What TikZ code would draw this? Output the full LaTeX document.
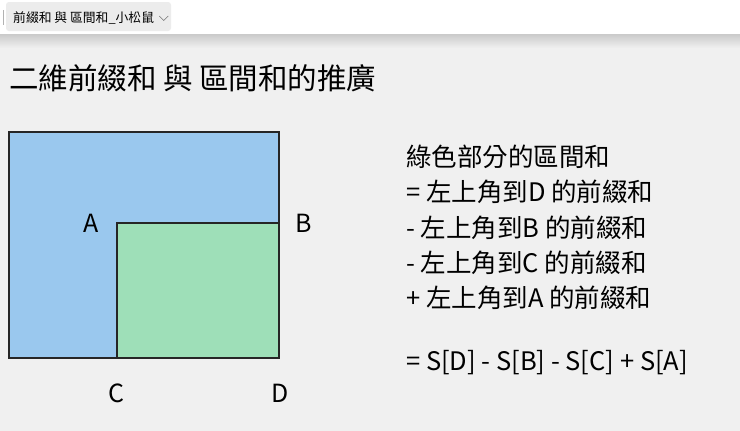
\documentclass[tikz,border=0pt]{standalone}
\usepackage{fontspec}
\setmainfont{Noto Sans CJK TC}
\usepackage{tikz}
\usetikzlibrary{positioning}
\definecolor{bgcol}{HTML}{F0F0F0}
\definecolor{myblue}{HTML}{9AC8EE}
\definecolor{mygreen}{HTML}{9EDFB8}
\definecolor{tabcol}{HTML}{ECECEC}
\tikzstyle{area} = [draw=black!85, line width=1.6pt]
\tikzstyle{corner} = [inner sep=0pt, font=\fontsize{25}{30}\selectfont]
\tikzstyle{txt} = [anchor=west, inner sep=0pt, font=\fontsize{25.5}{30}\selectfont]

\begin{document}
\begin{tikzpicture}[x=1pt, y=-1pt]
    \useasboundingbox[fill=bgcol] (0,0) rectangle (740,431);

    % top bar
    \shade[top color=black!22, bottom color=bgcol] (0,33) rectangle (740,48);
    \fill[white] (0,0) rectangle (740,34);
    \fill[tabcol, rounded corners=3pt] (6,2) rectangle (171,31);
    \draw[black!30, line width=1pt] (3,10) -- (3,25);
    \node[anchor=west, inner sep=0pt, font=\fontsize{12.8}{15}\selectfont] (tab) at (13,18) {前綴和 與 區間和\_小松鼠};
    \draw[black!55, line width=0.6pt] ([xshift=5pt,yshift=2pt]tab.east) -- ++(4.5,4.5) -- ++(4.5,-4.5);

    % title
    \node[anchor=west, inner sep=0pt, font=\fontsize{29.5}{34}\selectfont] (title) at (9,78) {二維前綴和 與 區間和的推廣};

    % rectangles
    \draw[area, fill=myblue] (9,132) rectangle (279,358);
    \draw[area, fill=mygreen] (117,223) rectangle (279,358);

    % Nodes
    \node [corner] (A) at (91,223) {A};
    \node [corner] (B) at (304,223) {B};
    \node [corner] (C) at (116,393) {C};
    \node [corner] (D) at (280,393) {D};

    % formula
    \node [txt] (l1) at (406,157) {綠色部分的區間和};
    \node [txt] (l2) at (406,192) {= 左上角到D 的前綴和};
    \node [txt] (l3) at (406,228) {- 左上角到B 的前綴和};
    \node [txt] (l4) at (406,263) {- 左上角到C 的前綴和};
    \node [txt] (l5) at (406,298) {+ 左上角到A 的前綴和};
    \node [txt] (res) at (406,363) {= S[D] - S[B] - S[C] + S[A]};

  \end{tikzpicture}
\end{document}
